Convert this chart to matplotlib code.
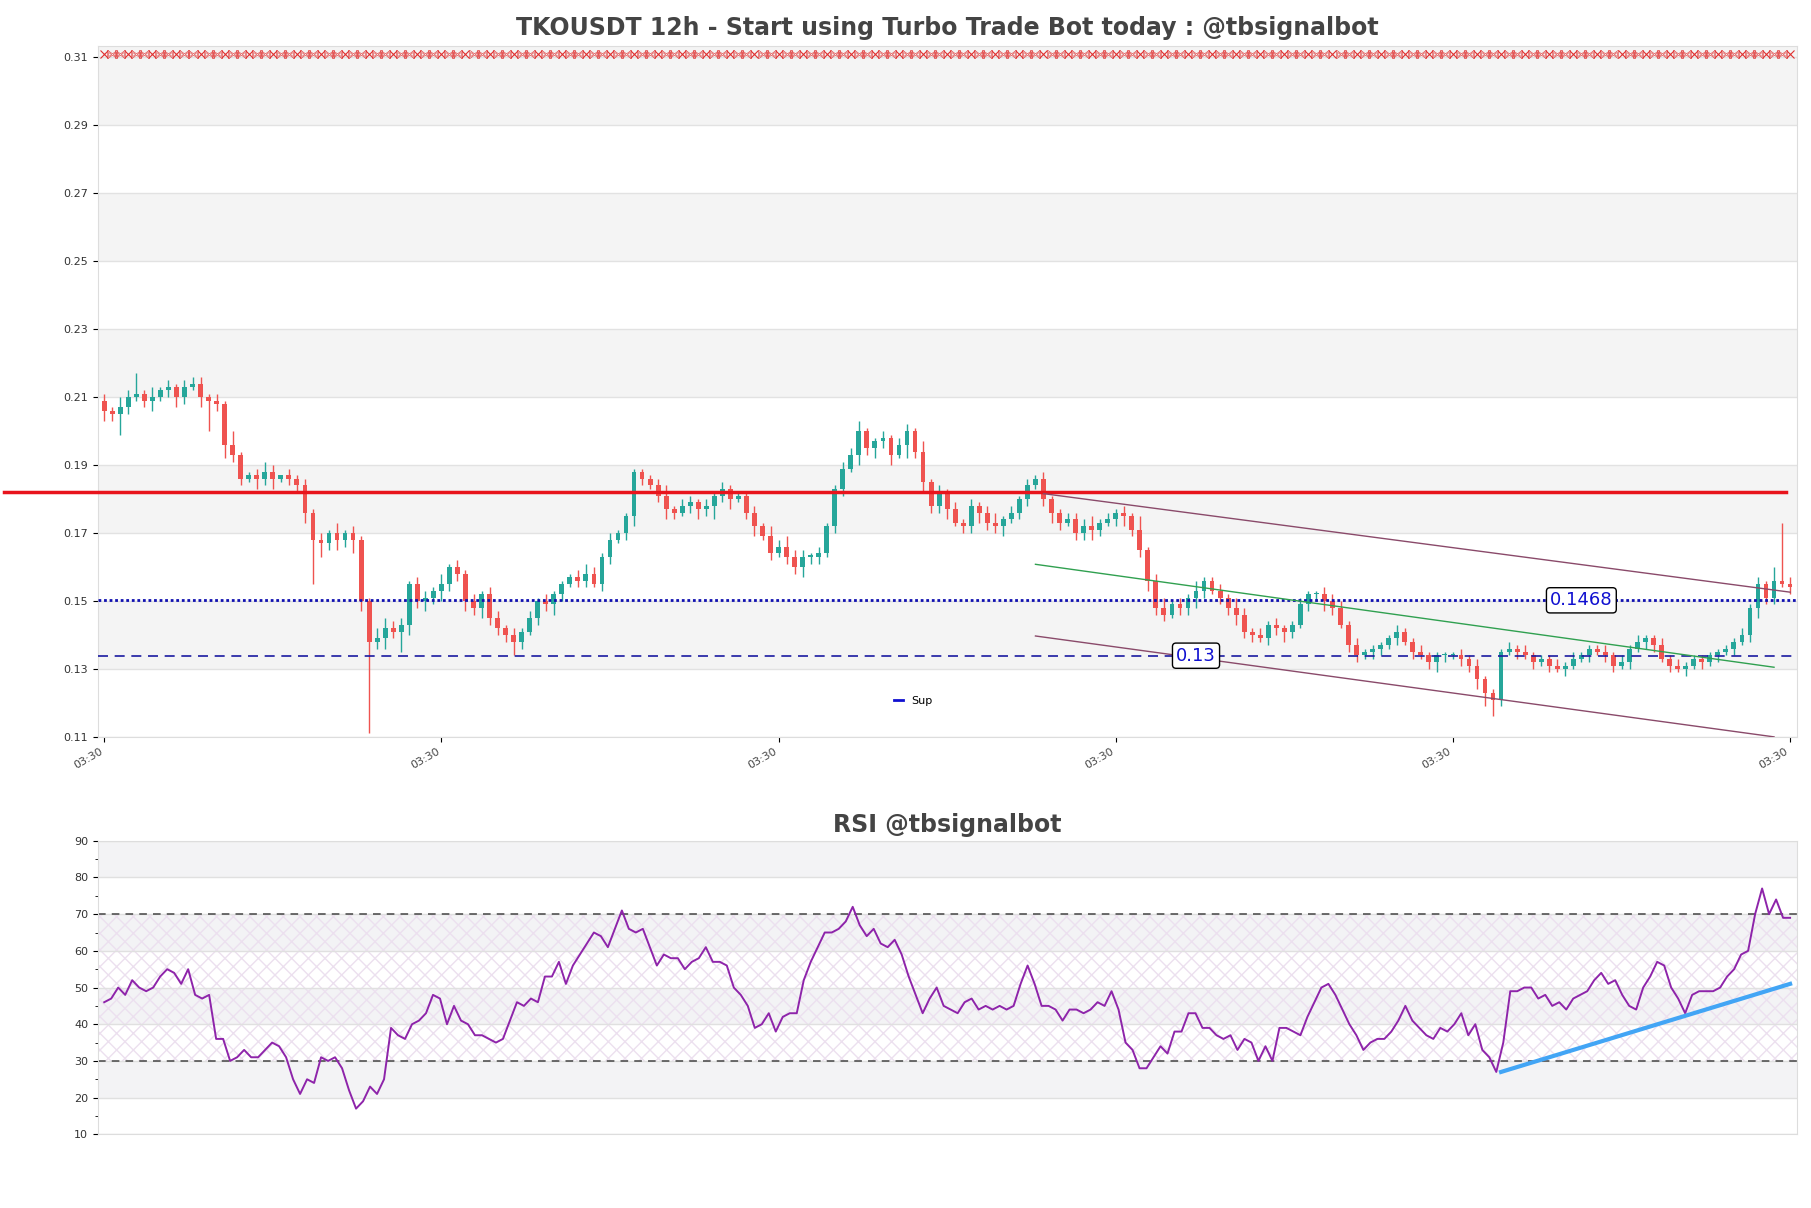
import numpy as np
import matplotlib
matplotlib.use("Agg")
import matplotlib.pyplot as plt

close = [.206,.205,.207,.210,.211,.209,.210,.212,.213,.210,
         .213,.214,.210,.209,.208,.196,.193,.186,.187,.186,
         .188,.186,.187,.186,.184,.176,.168,.167,.170,.168,
         .170,.168,.150,.138,.139,.142,.141,.143,.155,.150,
         .151,.153,.155,.160,.158,.150,.148,.152,.145,.142,
         .140,.138,.141,.145,.150,.149,.152,.155,.157,.156,
         .158,.155,.163,.168,.170,.175,.188,.186,.184,.181,
         .177,.176,.178,.179,.177,.178,.181,.183,.180,.181,
         .176,.172,.169,.164,.166,.163,.160,.163,.163,.164,
         .172,.183,.189,.193,.200,.195,.197,.198,.193,.196,
         .200,.194,.185,.178,.182,.177,.173,.172,.178,.176,
         .173,.172,.174,.176,.180,.184,.186,.180,.176,.173,
         .174,.170,.172,.171,.173,.174,.176,.175,.171,.165,
         .156,.148,.146,.149,.148,.151,.153,.156,.153,.151,
         .148,.146,.141,.140,.139,.143,.142,.141,.143,.149,
         .152,.152,.150,.148,.143,.137,.134,.135,.136,.137,
         .139,.141,.138,.135,.134,.132,.134,.134,.134,.133,
         .131,.127,.123,.121,.135,.136,.135,.134,.132,.133,
         .131,.130,.131,.133,.134,.136,.135,.134,.131,.132,
         .136,.138,.139,.137,.133,.131,.130,.131,.133,.132,
         .134,.135,.136,.138,.140,.148,.155,.151,.156,.155,
         .154]

first_open = 0.209

upper_wick = [2,1,3,2,6,1,3,1,2,1, 2,2,2,1,2,1,4,1,1,2, 3,2,0,2,1,2,1,2,1,3, 1,2,1,1,3,3,2,2,1,2,
              2,1,3,1,2,1,2,1,2,2, 1,2,1,2,1,2,1,1,1,2, 3,2,1,2,1,1,1,1,1,2, 3,1,2,2,1,2,1,2,1,1,
              1,2,1,3,2,3,2,2,1,2, 1,1,2,2,3,1,1,2,1,2, 2,1,3,1,2,1,2,1,2,1, 2,3,1,2,1,2,1,2,1,1,
              2,2,2,3,1,2,1,2,1,4, 1,2,3,1,2,1,3,1,1,2, 1,3,2,1,2,1,2,1,1,2, 1,1,2,2,2,1,2,1,1,1,
              1,2,1,1,2,1,1,1,1,2, 1,2,1,1,1,2,1,2,1,1, 1,2,1,2,1,1,1,2,1,2, 1,2,1,1,2,1,2,1,1,1,
              1,1,1,1,2,1,2,1,4,17, 2,1,1,1,1,1,1,1,1,1]
lower_wick = [3,2,6,2,1,2,3,1,2,3, 2,1,3,9,2,4,2,2,1,3, 2,3,1,2,2,3,13,4,2,3, 2,4,3,27,2,3,2,6,3,2,
              3,2,3,2,2,3,2,3,2,2, 2,4,2,1,2,2,3,2,1,2, 2,1,2,2,1,2,3,2,1,2, 3,2,1,2,3,2,4,2,3,1,
              2,3,1,2,1,2,2,3,2,2, 1,2,2,1,3,2,3,2,3,1, 4,2,3,2,2,3,1,2,2,3, 2,2,3,1,2,2,1,2,3,2,
              1,2,2,3,2,1,2,3,2,2, 3,2,2,1,2,2,3,2,1,2, 2,3,2,2,1,2,2,3,2,1, 2,2,3,2,1,2,2,1,2,2,
              1,2,1,2,1,2,3,2,1,2, 2,3,4,5,2,1,2,1,2,1, 2,1,2,1,1,2,1,2,2,1, 2,1,2,2,1,2,1,2,1,2,
              1,2,1,2,1,2,3,2,2,1, 2,1,1,1,1,1,1,1,1,1]

rsi = [46,47,50,48,52,50,49,50,53,55,54,51,55,48,47,48,36,36,30,31,
       33,31,31,33,35,34,31,25,21,25,24,31,30,31,28,22,17,19,23,21,
       25,39,37,36,40,41,43,48,47,40,45,41,40,37,37,36,35,36,41,46,
       45,47,46,53,53,57,51,56,59,62,65,64,61,66,71,66,65,66,61,56,
       59,58,58,55,57,58,61,57,57,56,50,48,45,39,40,43,38,42,43,43,
       52,57,61,65,65,66,68,72,67,64,66,62,61,63,59,53,48,43,47,50,
       45,44,43,46,47,44,45,44,45,44,45,51,56,51,45,45,44,41,44,44,
       43,44,46,45,49,44,35,33,28,28,31,34,32,38,38,43,43,39,39,37,
       36,37,33,36,35,30,34,30,39,39,38,37,42,46,50,51,48,44,40,37,
       33,35,36,36,38,41,45,41,39,37,36,39,38,40,43,37,40,33,31,27,
       35,49,49,50,50,47,48,45,46,44,47,48,49,52,54,51,52,48,45,44,
       50,53,57,56,50,47,43,48,49,49,49,50,53,55,59,60,70,77,70,74,
       69,69]

resistance = 0.1822
support_dotted = 0.1502
support_dashed = 0.1339
label_dotted = "0.1468"
label_dashed = "0.13"
top_marker_level = 0.311
channel_upper = ([117, 210], [0.1816, 0.1526])
channel_lower = ([116, 208], [0.1397, 0.1100])
channel_mid = ([116, 208], [0.1608, 0.1305])
rsi_trend = ([174, 210], [27, 51])
xtick_idx = [0, 42, 84, 126, 168, 210]
xtick_labels = ["03:30"] * 6

n = len(close)
opn = [first_open] + close[:-1]
idx = np.arange(n)
hi = [max(o, c) + u / 1000 for o, c, u in zip(opn, close, upper_wick)]
lo = [min(o, c) - l / 1000 for o, c, l in zip(opn, close, lower_wick)]

GREEN, RED = "#26a69a", "#ef5350"
fig = plt.figure(figsize=(18.11, 12.08), dpi=100)
ax = fig.add_axes([0.054, 0.390, 0.938, 0.572])
ax2 = fig.add_axes([0.054, 0.061, 0.938, 0.243])

xl = (-0.8, n - 0.2)
ax.set_xlim(*xl)
ax.set_ylim(0.11, 0.3134)
for lo_b in [0.13, 0.17, 0.21, 0.25, 0.29]:
    ax.axhspan(lo_b, lo_b + 0.02 if lo_b < 0.29 else 0.3134, color="#f4f4f4", zorder=0, lw=0)
ax.set_yticks(np.arange(0.11, 0.3101, 0.02))
ax.set_yticklabels([f"{v:.2f}" for v in np.arange(0.11, 0.3101, 0.02)])
ax.grid(axis="y", color="#e2e2e2", lw=1)
ax.set_axisbelow(True)
for i in range(n):
    col = GREEN if close[i] >= opn[i] else RED
    ax.vlines(idx[i], lo[i], hi[i], color=col, lw=1, zorder=3)
    b = max(abs(close[i] - opn[i]), 0.0004)
    ax.bar(idx[i], b, bottom=min(close[i], opn[i]), width=0.6, color=col, zorder=4, lw=0)

ax.plot([-12.5, n - 1.5], [resistance] * 2, color="#e8141c", lw=2.5, zorder=5, clip_on=False)
ax.axhline(support_dotted, color="#1010b0", lw=2, ls=(0, (1, 1)), zorder=5)
ax.axhline(support_dashed, color="#1a1aa0", lw=1.2, ls=(0, (6, 4)), zorder=5)
ax.plot(*channel_upper, color="#8a4a6a", lw=1, zorder=5)
ax.plot(*channel_lower, color="#8a4a6a", lw=1, zorder=5)
ax.plot(*channel_mid, color="#30a050", lw=1, zorder=5)
mk = idx[::3]
ax.plot(mk, [top_marker_level] * len(mk), ls="none", marker="x", ms=6,
        mec="#e03030", mew=0.8, zorder=5)
mk2 = np.concatenate([idx[1::3], idx[2::3]])
ax.plot(mk2, [top_marker_level] * len(mk2), ls="none", marker=r"$\bowtie$", ms=7,
        mec="#e03030", mfc="none", mew=0.4, zorder=5)
bbox = dict(boxstyle="round,pad=0.2", fc="white", ec="black", lw=1)
ax.text(184, support_dotted, label_dotted, color="#1010d0", fontsize=13, va="center", ha="center", bbox=bbox, zorder=6)
ax.text(136, support_dashed, label_dashed, color="#1010d0", fontsize=13, va="center", ha="center", bbox=bbox, zorder=6)
ax.plot([], [], color="#1010d0", lw=2, label="Sup")
ax.legend(loc="lower center", bbox_to_anchor=(0.48, 0.03), frameon=False, fontsize=8, handlelength=0.8)
ax.set_xticks(xtick_idx)
ax.set_xticklabels(xtick_labels, rotation=30, ha="right", fontsize=8, color="#444")
ax.tick_params(axis="y", labelsize=8, labelcolor="#333")
ax.set_title("TKOUSDT 12h - Start using Turbo Trade Bot today : @tbsignalbot",
             fontsize=17, fontweight="bold", color="#444", pad=8)
for s in ax.spines.values():
    s.set_color("#dddddd")

ax2.set_xlim(*xl)
ax2.set_ylim(10, 90)
for a, b in [(20, 30), (40, 50), (60, 70), (80, 90)]:
    ax2.axhspan(a, b, color="#f3f3f5", zorder=0, lw=0)
ax2.axhspan(30, 70, facecolor="none", hatch="xx", edgecolor="#ece0ef", lw=0, zorder=0)
ax2.set_yticks(range(10, 91, 10))
ax2.set_yticks(range(15, 90, 10), minor=True)
ax2.grid(axis="y", color="#e0e0e0", lw=1)
ax2.set_axisbelow(True)
ax2.axhline(70, color="#444", ls=(0, (5, 4)), lw=1.1)
ax2.axhline(30, color="#444", ls=(0, (5, 4)), lw=1.1)
rx = np.arange(len(rsi)) * (n - 1) / (len(rsi) - 1)
ax2.plot(rx, rsi, color="#8e24aa", lw=1.4, zorder=4)
ax2.plot(*rsi_trend, color="#42a5f5", lw=3, zorder=5)
ax2.set_xticks([])
ax2.tick_params(axis="y", labelsize=8, labelcolor="#333")
ax2.set_title("RSI @tbsignalbot", fontsize=17, fontweight="bold", color="#444", pad=6)
for s in ax2.spines.values():
    s.set_color("#dddddd")

fig.savefig("out.png", dpi=100)
